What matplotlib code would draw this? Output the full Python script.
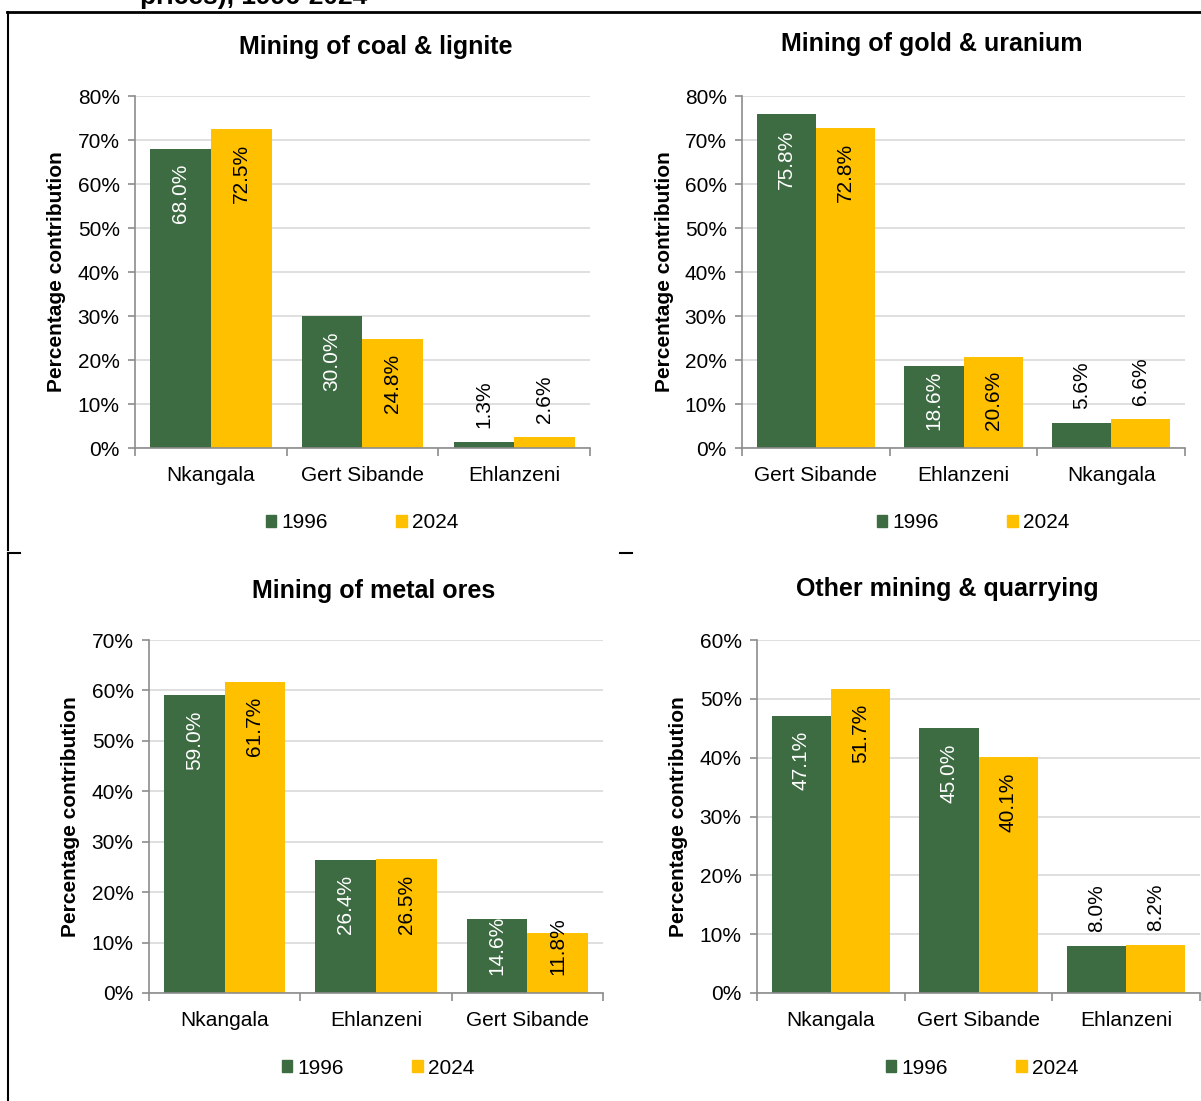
import numpy as np
import matplotlib as mpl
mpl.use('Agg')
import matplotlib.pyplot as plt
from matplotlib.lines import Line2D
from matplotlib.patches import Patch

plt.rcParams['font.family'] = ['Liberation Sans', 'DejaVu Sans']

W, H = 1201, 1101
GREEN = '#3d6b42'
YELLOW = '#ffc000'
GRID = '#d9d9d9'
AXIS = '#8c8c8c'
FS = 15

# data
series_names = ['1996', '2024']

coal_title = 'Mining of coal & lignite'
coal_cats = ['Nkangala', 'Gert Sibande', 'Ehlanzeni']
coal_1996 = [68.0, 30.0, 1.3]
coal_2024 = [72.5, 24.8, 2.6]

gold_title = 'Mining of gold & uranium'
gold_cats = ['Gert Sibande', 'Ehlanzeni', 'Nkangala']
gold_1996 = [75.8, 18.6, 5.6]
gold_2024 = [72.8, 20.6, 6.6]

metal_title = 'Mining of metal ores'
metal_cats = ['Nkangala', 'Ehlanzeni', 'Gert Sibande']
metal_1996 = [59.0, 26.4, 14.6]
metal_2024 = [61.7, 26.5, 11.8]

other_title = 'Other mining & quarrying'
other_cats = ['Nkangala', 'Gert Sibande', 'Ehlanzeni']
other_1996 = [47.1, 45.0, 8.0]
other_2024 = [51.7, 40.1, 8.2]

fig = plt.figure(figsize=(W / 100, H / 100), dpi=100)


def px_axes(x0, y0, x1, y1):
    return fig.add_axes([x0 / W, 1 - y1 / H, (x1 - x0) / W, (y1 - y0) / H])


# (title, cats, a, b, ymax, axes box, title pos, ylabel x, legend center)
panels = [
    (coal_title, coal_cats, coal_1996, coal_2024, 80, (135, 96, 590, 448), (376, 47), 57, (362, 523)),
    (gold_title, gold_cats, gold_1996, gold_2024, 80, (742, 96, 1185, 448), (932, 44), 664, (973, 523)),
    (metal_title, metal_cats, metal_1996, metal_2024, 70, (149, 640, 603, 993), (374, 591), 70, (378, 1068)),
    (other_title, other_cats, other_1996, other_2024, 60, (757, 640, 1200, 993), (947, 589), 678, (982, 1068)),
]

fig.canvas.draw()
renderer = fig.canvas.get_renderer()

for title, cats, a, b, ymax, box, tpos, ylx, lpos in panels:
    ax = px_axes(*box)
    x = np.arange(len(cats))
    w = 0.4
    bars_a = ax.bar(x - w / 2, a, w, color=GREEN, zorder=3)
    bars_b = ax.bar(x + w / 2, b, w, color=YELLOW, zorder=3)
    ax.set_xlim(-0.5, len(cats) - 0.5)
    ax.set_ylim(0, ymax)
    ax.set_yticks(np.arange(0, ymax + 1, 10))
    ax.set_yticklabels(['%d%%' % v for v in np.arange(0, ymax + 1, 10)], fontsize=FS)
    ax.set_xticks(x)
    ax.set_xticklabels(cats, fontsize=FS)
    ax.set_xticks(np.arange(len(cats) + 1) - 0.5, minor=True)
    ax.tick_params(axis='x', which='major', length=0, pad=13)
    ax.tick_params(axis='x', which='minor', length=6, color=AXIS, width=1.2)
    ax.tick_params(axis='y', length=5, color=AXIS, width=1.2, pad=6)
    ax.yaxis.grid(True, color=GRID, lw=1.2, zorder=0)
    ax.set_axisbelow(True)
    for s in ['top', 'right']:
        ax.spines[s].set_visible(False)
    for s in ['left', 'bottom']:
        ax.spines[s].set_color(AXIS)
        ax.spines[s].set_linewidth(1.2)
        ax.spines[s].set_zorder(4)

    fig.text(tpos[0] / W, 1 - tpos[1] / H, title, fontsize=18, fontweight='bold',
             ha='center', va='center')
    fig.text(ylx / W, 1 - (box[1] + box[3]) / 2 / H, 'Percentage contribution',
             fontsize=FS, fontweight='bold', rotation=90, ha='center', va='center')

    # data labels: inside end, or outside end when the bar is short
    for bars, vals, incol in [(bars_a, a, 'white'), (bars_b, b, 'black')]:
        for r, v in zip(bars, vals):
            xc = r.get_x() + r.get_width() / 2
            txt = '%.1f%%' % v
            if v / ymax < 0.15:
                ax.annotate(txt, (xc, v), xytext=(0, 10), textcoords='offset points',
                            rotation=90, ha='center', va='bottom', fontsize=FS,
                            color='black', zorder=5)
            else:
                t = ax.annotate(txt, (xc, v), xytext=(0, -11), textcoords='offset points',
                                rotation=90, ha='center', va='top', fontsize=FS,
                                color=incol, zorder=5)
                bb = t.get_window_extent(renderer)
                y0 = ax.transData.transform((0, 0))[1]
                if bb.y0 < y0 + 18:
                    t.xy = (xc, 0)
                    t.set_position((0, 13))
                    t.set_va('bottom')

    handles = [Patch(color=GREEN), Patch(color=YELLOW)]
    fig.legend(handles, series_names, loc='center', ncol=2, frameon=False,
               bbox_to_anchor=(lpos[0] / W, 1 - lpos[1] / H), fontsize=FS,
               handlelength=0.5, handleheight=0.5, handletextpad=0.25,
               columnspacing=3.3)

# frame lines from the page
def line(x0, y0, x1, y1, lw=1.5):
    fig.add_artist(Line2D([x0 / W, x1 / W], [1 - y0 / H, 1 - y1 / H],
                          transform=fig.transFigure, color='black', lw=lw))

line(7, 12, 1201, 12, 2)
line(8, 12, 8, 550)
line(8, 553, 8, 1101)
line(8, 553, 20, 553)
line(620, 553, 632, 553)

fig.text(140 / W, 1 - 4 / H, 'prices), 1996-2024', fontsize=19, fontweight='bold',
         ha='left', va='baseline')

plt.savefig('out.png', dpi=100)
